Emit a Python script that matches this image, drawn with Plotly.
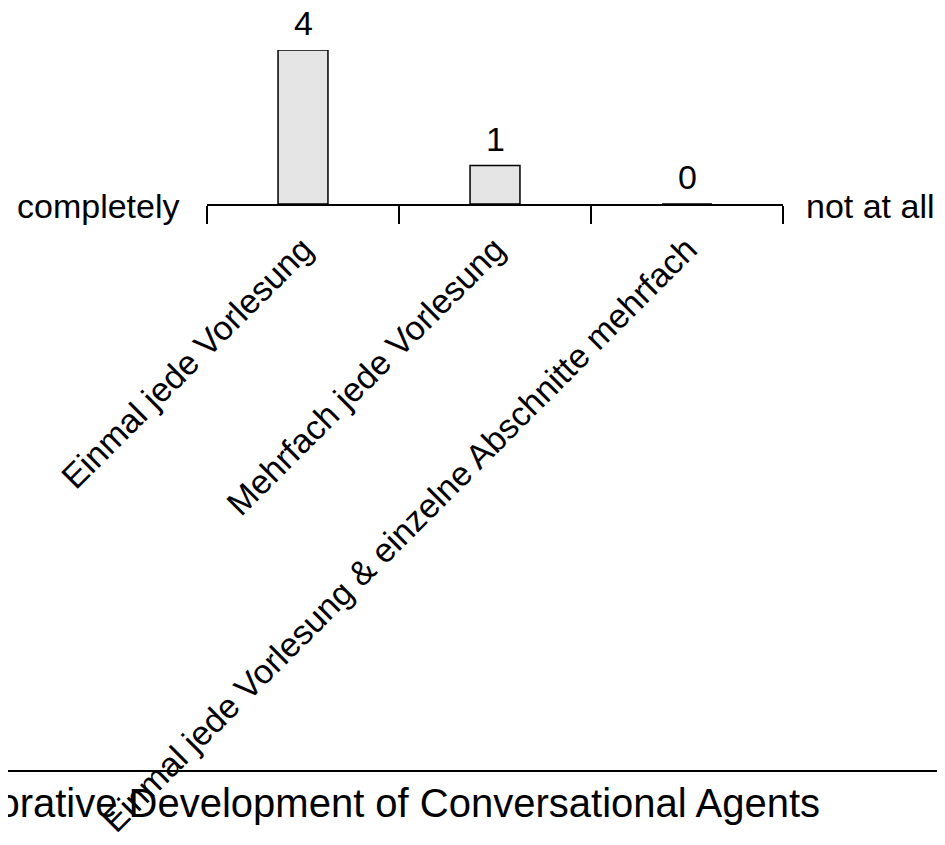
import plotly.graph_objects as go

categories = [
    "Einmal jede Vorlesung",
    "Mehrfach jede Vorlesung",
    "Einmal jede Vorlesung & einzelne Abschnitte mehrfach",
]
counts = [4, 1, 0]
left_label = "completely"
right_label = "not at all"
footer_text = "Collaborative Development of Conversational Agents"

FONT = "Liberation Sans, Arial, sans-serif"
SIZE = 34

fig = go.Figure(
    go.Bar(
        x=categories,
        y=counts,
        width=0.26,
        marker=dict(color="#e5e5e5", line=dict(color="black", width=1.5)),
        cliponaxis=False,
    )
)

# count labels above each bar
for cat, n in zip(categories, counts):
    fig.add_annotation(x=cat, y=n, text=str(n), showarrow=False,
                       yanchor="middle", yshift=27,
                       font=dict(size=SIZE, color="black", family=FONT))

fig.update_xaxes(
    showline=True, linecolor="black", linewidth=1.5,
    ticks="outside", tickson="boundaries", ticklen=18, tickwidth=1.5, tickcolor="black",
    tickangle=-45, tickfont=dict(size=SIZE, color="black", family=FONT),
    ticklabelstandoff=10,
    showgrid=False, zeroline=False, automargin=False,
)
fig.update_yaxes(visible=False, range=[0, 4], automargin=False)

# scale end labels
fig.add_annotation(text=left_label, xref="paper", yref="paper", x=-0.044, y=-0.015,
                   xanchor="right", yanchor="middle", showarrow=False,
                   font=dict(size=SIZE, color="black", family=FONT))
fig.add_annotation(text=right_label, xref="paper", yref="paper", x=1.037, y=-0.015,
                   xanchor="left", yanchor="middle", showarrow=False,
                   font=dict(size=SIZE, color="black", family=FONT))

# footer rule and clipped footer title
fig.add_shape(type="line", xref="paper", yref="paper", x0=-0.4, x1=1.35,
              y0=-3.682, y1=-3.682, line=dict(color="black", width=2))
fig.add_annotation(text=footer_text, xref="paper", yref="paper", x=1.0677, y=-3.89,
                   xanchor="right", yanchor="middle", showarrow=False,
                   font=dict(size=40, color="black", family=FONT))

fig.update_layout(
    width=937, height=837,
    margin=dict(l=199, r=162, t=42, b=641),
    plot_bgcolor="white", paper_bgcolor="white",
    showlegend=False,
    font=dict(family=FONT, color="black"),
)

fig.write_html("out.html")
